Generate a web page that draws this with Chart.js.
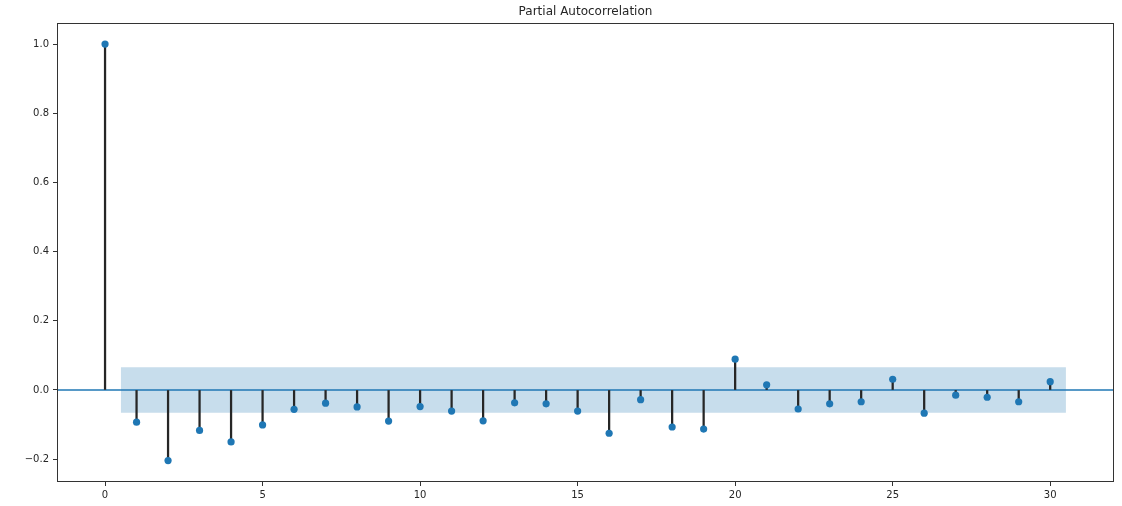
<!DOCTYPE html>
<html>

<head>
    <meta charset="utf-8">
    <title>Partial Autocorrelation</title>
    <style>
        html, body { margin: 0; padding: 0; background: #fff; }
        #wrap { width: 1122px; height: 506px; }
    </style>
</head>

<body>
    <div id="wrap"><canvas id="myChart"></canvas></div>

    <script src="https://cdn.jsdelivr.net/npm/chart.js@4/dist/chart.umd.min.js"></script>
    <script type="text/javascript">
        // lags and partial autocorrelation values
        const lags = [0, 1, 2, 3, 4, 5, 6, 7, 8, 9, 10, 11, 12, 13, 14, 15,
            16, 17, 18, 19, 20, 21, 22, 23, 24, 25, 26, 27, 28, 29, 30];
        const pacf = [1.0, -0.093, -0.204, -0.117, -0.150, -0.101, -0.056, -0.038, -0.049, -0.090,
            -0.048, -0.061, -0.089, -0.037, -0.040, -0.061, -0.125, -0.028, -0.107, -0.113,
            0.089, 0.015, -0.055, -0.040, -0.034, 0.031, -0.067, -0.015, -0.021, -0.034, 0.024];
        // confidence band (flat), spans lag 0.5 .. 30.5
        const bandX = [0.5, 30.5];
        const bandUpper = [0.066, 0.066];
        const bandLower = [-0.066, -0.066];
        const xTicks = [0, 5, 10, 15, 20, 25, 30];
        const yTicks = [-0.2, 0.0, 0.2, 0.4, 0.6, 0.8, 1.0];
        const xMin = -1.525, xMax = 32.025;
        const yMin = -0.266, yMax = 1.061;

        const blue = '#1f77b4';
        const ink = '#262626';

        const frame = {
            id: 'frame',
            afterDatasetsDraw(chart) {
                const a = chart.chartArea;
                const c = chart.ctx;
                c.save();
                c.strokeStyle = '#333';
                c.lineWidth = 1;
                c.strokeRect(Math.round(a.left) + 0.5, Math.round(a.top) + 0.5,
                    Math.round(a.right - a.left) - 1, Math.round(a.bottom - a.top) - 1);
                c.restore();
            }
        };

        const ctx = document.getElementById('myChart').getContext('2d');
        const chart = new Chart(ctx, {
            data: {
                datasets: [{
                    type: 'scatter',
                    label: 'pacf',
                    data: lags.map((l, i) => ({ x: l, y: pacf[i] })),
                    pointRadius: 3.6,
                    pointBackgroundColor: blue,
                    pointBorderWidth: 0,
                    order: 0
                }, {
                    type: 'bar',
                    label: 'stems',
                    data: lags.map((l, i) => ({ x: l, y: pacf[i] })),
                    backgroundColor: '#262626',
                    barThickness: 1.6,
                    order: 1
                }, {
                    type: 'line',
                    label: 'zero',
                    data: [{ x: xMin, y: 0 }, { x: xMax, y: 0 }],
                    borderColor: blue,
                    borderWidth: 1.6,
                    pointRadius: 0,
                    order: 2
                }, {
                    type: 'line',
                    label: 'upper',
                    data: bandX.map((x, i) => ({ x: x, y: bandUpper[i] })),
                    borderWidth: 0,
                    pointRadius: 0,
                    fill: false,
                    order: 3
                }, {
                    type: 'line',
                    label: 'lower',
                    data: bandX.map((x, i) => ({ x: x, y: bandLower[i] })),
                    borderWidth: 0,
                    pointRadius: 0,
                    backgroundColor: 'rgba(31,119,180,0.25)',
                    fill: '-1',
                    order: 3
                }]
            },
            options: {
                responsive: true,
                maintainAspectRatio: false,
                animation: false,
                layout: { padding: { left: 0, right: 8, top: 0, bottom: 0 } },
                plugins: {
                    legend: { display: false },
                    tooltip: { enabled: false },
                    title: {
                        display: true,
                        text: 'Partial Autocorrelation',
                        fullSize: false,
                        color: ink,
                        font: { family: 'DejaVu Sans', size: 12, weight: 'normal' },
                        padding: { top: 5, bottom: 3.6 }
                    }
                },
                scales: {
                    x: {
                        type: 'linear',
                        min: xMin,
                        max: xMax,
                        offset: false,
                        afterBuildTicks: s => { s.ticks = xTicks.map(v => ({ value: v })); },
                        afterFit: s => { s.height = 24; },
                        grid: { display: true, offset: false, drawOnChartArea: false, tickLength: 4, color: '#333' },
                        border: { display: false },
                        ticks: {
                            color: ink,
                            padding: 3,
                            maxRotation: 0,
                            font: { family: 'DejaVu Sans', size: 10 },
                            callback: v => String(v)
                        }
                    },
                    y: {
                        type: 'linear',
                        min: yMin,
                        max: yMax,
                        afterBuildTicks: s => { s.ticks = yTicks.map(v => ({ value: v })); },
                        afterFit: s => { s.width = 57; },
                        grid: { display: true, drawOnChartArea: false, tickLength: 4, color: '#333' },
                        border: { display: false },
                        ticks: {
                            color: ink,
                            padding: 4,
                            font: { family: 'DejaVu Sans', size: 10 },
                            callback: v => v.toFixed(1).replace('-', '\u2212')
                        }
                    }
                }
            },
            plugins: [frame]
        });
    </script>
</body>

</html>
